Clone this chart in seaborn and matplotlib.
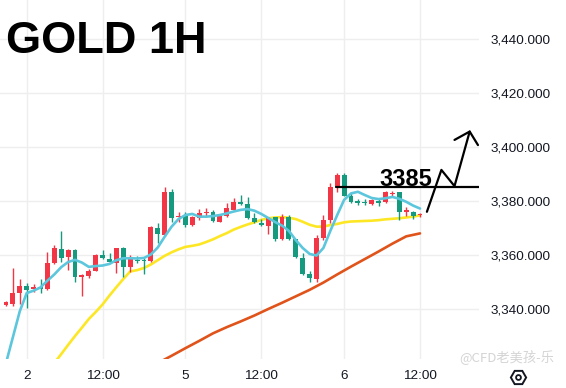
import matplotlib
matplotlib.use("Agg")
import matplotlib.pyplot as plt
import numpy as np
import seaborn as sns

# hourly candles, index 0..60 (red = up, green = down)
opens = [3341.3, 3341.7, 3345.7, 3348.4, 3347.2, 3347.9, 3347.3, 3356.8, 3362.1, 3359.0,
         3361.7, 3351.9, 3352.1, 3354.1, 3359.9, 3358.5, 3356.9, 3362.4, 3355.6, 3358.0,
         3358.0, 3357.7, 3370.0, 3367.3, 3383.1, 3374.1, 3374.4, 3371.0, 3373.5, 3375.3,
         3375.7, 3372.2, 3374.4, 3376.6, 3379.6, 3378.8, 3373.5, 3371.9, 3370.7, 3373.9,
         3365.8, 3373.9, 3365.8, 3358.9, 3352.9, 3351.0, 3366.1, 3372.9, 3385.2, 3389.5,
         3381.9, 3379.9, 3379.6, 3378.7, 3379.9, 3379.6, 3382.5, 3383.1, 3375.9, 3375.9,
         3374.6]
highs = [3342.8, 3355.0, 3351.1, 3349.4, 3349.1, 3351.1, 3361.1, 3363.6, 3368.9, 3362.1,
         3362.1, 3352.9, 3354.6, 3360.3, 3361.7, 3360.5, 3362.6, 3362.7, 3359.9, 3359.6,
         3358.7, 3370.8, 3371.6, 3385.2, 3384.3, 3375.9, 3375.9, 3374.4, 3376.9, 3377.2,
         3376.6, 3375.0, 3379.0, 3381.1, 3382.1, 3381.3, 3375.3, 3373.1, 3374.1, 3374.1,
         3375.0, 3374.6, 3366.0, 3360.5, 3354.0, 3367.3, 3374.7, 3386.4, 3390.1, 3390.4,
         3382.7, 3380.6, 3380.5, 3380.5, 3380.9, 3383.7, 3383.7, 3383.3, 3377.8, 3376.3,
         3375.6]
lows = [3341.0, 3341.0, 3341.7, 3340.1, 3346.3, 3345.9, 3346.9, 3356.5, 3357.4, 3354.3,
        3350.0, 3344.7, 3351.3, 3353.9, 3358.4, 3356.8, 3353.3, 3351.9, 3353.7, 3356.8,
        3352.7, 3357.3, 3364.2, 3367.0, 3372.2, 3372.2, 3370.4, 3370.6, 3372.9, 3374.1,
        3372.2, 3372.0, 3374.1, 3376.3, 3378.4, 3373.3, 3371.6, 3370.7, 3367.6, 3365.0,
        3365.6, 3365.6, 3358.9, 3352.5, 3349.8, 3350.0, 3365.4, 3371.6, 3383.3, 3381.7,
        3379.0, 3378.4, 3378.4, 3378.4, 3378.0, 3379.3, 3381.3, 3372.9, 3374.3, 3373.1,
        3374.1]
closes = [3342.5, 3345.7, 3348.4, 3346.9, 3347.9, 3347.3, 3356.8, 3362.4, 3358.7, 3361.7,
          3351.9, 3352.4, 3354.1, 3360.0, 3358.7, 3357.2, 3362.4, 3355.6, 3358.4, 3357.7,
          3357.6, 3370.4, 3367.6, 3383.1, 3373.5, 3374.4, 3371.0, 3373.9, 3375.3, 3375.7,
          3372.5, 3374.4, 3377.2, 3379.6, 3378.8, 3373.5, 3372.0, 3371.0, 3373.7, 3365.8,
          3373.9, 3365.8, 3359.3, 3352.9, 3351.3, 3366.1, 3372.9, 3385.2, 3389.5, 3381.9,
          3379.4, 3379.3, 3379.0, 3380.3, 3379.3, 3383.1, 3383.0, 3375.9, 3376.6, 3374.3,
          3375.0]

# moving averages
ma_fast = [3319.9, 3329.5, 3339.1, 3345.8, 3346.7, 3347.9, 3350.4, 3352.7, 3355.4, 3357.3,
           3358.1, 3357.1, 3355.5, 3355.8, 3356.0, 3356.6, 3358.0, 3358.7, 3358.7, 3358.6,
           3358.8, 3360.1, 3362.7, 3366.7, 3370.4, 3373.2, 3374.7, 3375.1, 3374.1, 3374.1,
           3374.3, 3374.7, 3375.3, 3376.0, 3376.6, 3376.9, 3376.3, 3375.1, 3373.6, 3372.1,
           3370.8, 3368.8, 3365.4, 3362.5, 3360.3, 3359.7, 3362.5, 3368.8, 3374.7, 3380.3,
           3382.7, 3383.3, 3382.1, 3381.0, 3380.6, 3380.9, 3381.4, 3380.7, 3379.6, 3378.2,
           3377.1]
ma_mid_idx = list(range(7, 61))
ma_mid = [3319.9, 3323.2, 3326.6, 3329.9, 3333.0, 3336.2, 3338.8, 3341.6, 3344.9, 3348.0,
          3351.0, 3353.8, 3354.3, 3355.1, 3356.4, 3358.0, 3359.6, 3360.9, 3362.0, 3362.9,
          3363.3, 3363.8, 3364.7, 3365.7, 3366.9, 3368.0, 3369.3, 3370.3, 3371.2, 3372.0,
          3372.9, 3373.5, 3373.8, 3373.9, 3373.7, 3373.2, 3372.2, 3371.1, 3370.4, 3370.4,
          3371.0, 3371.4, 3372.0, 3372.3, 3372.4, 3372.5, 3372.6, 3372.8, 3373.1, 3373.3,
          3373.5, 3373.8, 3374.1, 3374.6]
ma_slow_idx = list(range(22, 61, 2))
ma_slow = [3319.9, 3322.6, 3325.4, 3328.1, 3330.9, 3333.2, 3335.3, 3337.5, 3339.9, 3342.2,
           3344.6, 3347.0, 3349.7, 3352.7, 3355.6, 3358.4, 3361.2, 3364.1, 3366.8, 3367.9]

tick_pos = [3, 14, 26, 37, 49, 60]
tick_labels = ["2", "12:00", "5", "12:00", "6", "12:00"]
price_ticks = [3340, 3360, 3380, 3400, 3420, 3440]

level = 3385
level_start = 47.8
arrow_x = [61.0, 63.1, 65.0, 67.2]
arrow_y = [3375.9, 3391.4, 3385.4, 3405.6]
barb_x = [65.0, 67.2, 68.4]
barb_y = [3402.5, 3405.6, 3400.6]

sns.set_theme(style="white")
plt.rcParams["font.family"] = ["Liberation Sans", "DejaVu Sans"]

up_col = "#f23645"
dn_col = "#159a80"

fig = plt.figure(figsize=(5.66, 3.88), dpi=100)
ax = fig.add_axes([0, 29 / 388, 479 / 566, 359 / 388])
ax.set_xlim(-0.87, 68.55)
ax.set_ylim(3321.4, 3454.3)

x = np.arange(len(opens))
o = np.array(opens)
c = np.array(closes)
cols = [up_col if cc >= oo else dn_col for oo, cc in zip(o, c)]
ax.vlines(x, lows, highs, colors=cols, lw=1, zorder=3)
body_lo = np.minimum(o, c)
body_h = np.maximum(np.abs(c - o), 0.4)
ax.bar(x, body_h, bottom=body_lo, width=0.7, color=cols, zorder=4, linewidth=0)

sns.lineplot(x=list(x), y=ma_fast, color="#5cc6dd", lw=1.9, ax=ax, zorder=5,
             estimator=None, sort=False)
sns.lineplot(x=ma_mid_idx, y=ma_mid, color="#fde725", lw=1.9, ax=ax, zorder=2,
             estimator=None, sort=False)
sns.lineplot(x=ma_slow_idx, y=ma_slow, color="#e0531a", lw=1.9, ax=ax, zorder=2,
             estimator=None, sort=False)

# annotation
ax.plot([level_start, 68.55], [level, level], color="black", lw=1.6, zorder=6)
ax.text(57.9, level + 0.6, "3385", fontsize=17, fontweight="bold", ha="center",
        va="baseline", color="black", zorder=7)
ax.plot(arrow_x, arrow_y, color="black", lw=1.6, zorder=6, clip_on=False)
ax.plot(barb_x, barb_y, color="black", lw=1.6, zorder=6, clip_on=False)

ax.set_xticks(tick_pos)
ax.set_xticklabels(tick_labels)
ax.set_yticks(price_ticks)
ax.set_yticklabels([f"{v:,.3f}" for v in price_ticks])
ax.yaxis.tick_right()
ax.tick_params(axis="both", length=0, labelsize=9.7, colors="#131722")
ax.tick_params(axis="x", pad=8)
ax.tick_params(axis="y", pad=8)
ax.grid(True, color="#eeeeee", lw=1)
for s in ax.spines.values():
    s.set_visible(False)
ax.set_xlabel("")
ax.set_ylabel("")

fig.text(6 / 566, 1 - 53.3 / 388, "GOLD 1H", fontsize=32.5, fontweight="bold",
         va="baseline", ha="left", color="black")
fig.text(459 / 566, 1 - 358 / 388, "@CFD老美孩-乐", fontsize=9.5, color="#d4d4d4",
         va="center", ha="left", family=["Noto Sans CJK SC", "DejaVu Sans"])
fig.add_artist(plt.Line2D([517.7 / 566], [1 - 376.7 / 388], marker="H", markersize=11,
                          markerfacecolor="white", markeredgecolor="#131722",
                          markeredgewidth=1.4, transform=fig.transFigure))
fig.add_artist(plt.Line2D([517.7 / 566], [1 - 376.7 / 388], marker="o", markersize=3.5,
                          markerfacecolor="white", markeredgecolor="#131722",
                          markeredgewidth=1.3, transform=fig.transFigure))

fig.savefig("out.png", dpi=100)
